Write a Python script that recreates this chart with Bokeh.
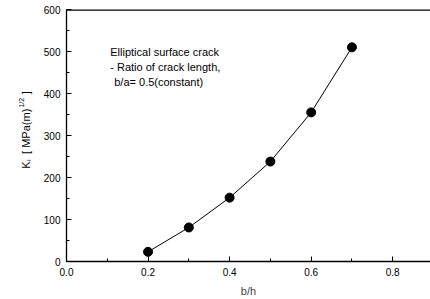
import math
from bokeh.plotting import figure
from bokeh.layouts import row
from bokeh.models import FixedTicker, Span, Label, Range1d
from bokeh.core.properties import value
from bokeh.embed import file_html
from bokeh.resources import INLINE

# data
b_over_h = [0.2, 0.3, 0.4, 0.5, 0.6, 0.7]
K_I = [23, 81, 152, 238, 355, 510]

x_major = [0.0, 0.2, 0.4, 0.6, 0.8]
x_minor = [0.1, 0.3, 0.5, 0.7]
y_major = [0, 100, 200, 300, 400, 500, 600]
y_minor = [50, 150, 250, 350, 450, 550]

FONT = "Liberation Sans"

W, H = 430, 299
LW = 40
FL, FR, FT, FB = 64, 430, 9, 262
XMAX = (FR - FL) / 410.0
YMAX = 600

p = figure(width=W - LW, height=H, output_backend="svg", toolbar_location=None,
           title_location=None,
           x_range=Range1d(0, XMAX), y_range=Range1d(0, YMAX),
           min_border_left=FL - LW, min_border_right=0, min_border_top=FT,
           min_border_bottom=H - FB)
p.grid.visible = False
p.outline_line_color = None

for ax in (p.xaxis[0], p.yaxis[0]):
    ax.axis_line_color = "black"
    ax.axis_line_width = 1.3
    ax.major_tick_in = 5
    ax.major_tick_out = 0
    ax.minor_tick_in = 3
    ax.minor_tick_out = 0
    ax.major_label_text_font = FONT
    ax.major_label_text_font_size = "10px"
    ax.major_label_text_color = "black"

p.xaxis.ticker = FixedTicker(ticks=x_major, minor_ticks=x_minor)
p.xaxis.major_label_overrides = {v: f"{v:.1f}" for v in x_major}
p.xaxis.major_label_standoff = 6
p.xaxis.axis_label = "b/h"
p.xaxis.axis_label_text_font = FONT
p.xaxis.axis_label_text_font_size = "11px"
p.xaxis.axis_label_text_font_style = "normal"
p.xaxis.axis_label_standoff = 6

p.yaxis.ticker = FixedTicker(ticks=y_major, minor_ticks=y_minor)
p.yaxis.major_label_standoff = 6

p.add_layout(Span(location=YMAX, dimension="width", line_color="black", line_width=2.5))

p.line(b_over_h, K_I, line_color="black", line_width=1)
p.scatter(b_over_h, K_I, size=9, marker="circle", fill_color="black", line_color="black")


def dx(px):
    return (px - FL) / 410.0


def dy(py):
    return (FB - py) * YMAX / (FB - FT)


for txt, px, py in [("Elliptical surface crack", 108, 46),
                    ("- Ratio of crack length,", 108, 61),
                    ("b/a= 0.5(constant)", 112, 76)]:
    p.add_layout(Label(x=dx(px), y=dy(py), text=txt, text_font=FONT,
                       text_font_size="11px", text_baseline="top", text_align="left",
                       text_color="black"))

# left strip for the y-axis title; its frame is aligned with the main frame (rows align frames)
q = figure(width=LW, height=H, output_backend="svg", toolbar_location=None,
           title_location=None, x_axis_location=None, y_axis_location=None,
           x_range=Range1d(0, LW), y_range=Range1d(H - FB, H - FT),
           min_border_left=0, min_border_right=0, min_border_top=FT,
           min_border_bottom=H - FB)
q.grid.visible = False
q.outline_line_color = None

pieces = [("K", 25, 169, "11px"),
          ("I", 28.5, 161, "6px"),
          ("[ MPa(m)", 25, 154, "11px"),
          ("1/2", 21, 107.5, "7px"),
          ("]", 25, 94, "11px")]
for txt, px, py, fs in pieces:
    q.text(x=[px], y=[H - py], text=[txt], angle=math.pi / 2,
           text_font=value(FONT), text_font_size=value(fs),
           text_align="left", text_baseline="middle", text_color="black")

layout = row(q, p)
open("out.html", "w").write(file_html(layout, INLINE))
